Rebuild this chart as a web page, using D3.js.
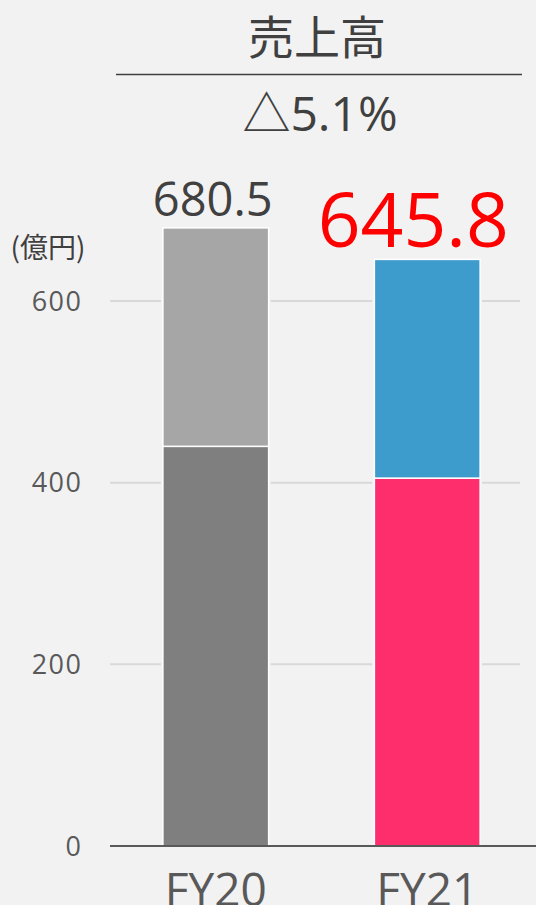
<!DOCTYPE html>
<html>
<head>
<meta charset="utf-8">
<script src="https://cdn.jsdelivr.net/npm/d3@7"></script>
<style>
  html, body { margin: 0; padding: 0; background: #f2f2f2; overflow: hidden; }
  svg { display: block; font-family: "Open Sans", "Noto Sans CJK JP", sans-serif; }
  .jp { font-family: "Noto Sans CJK JP", sans-serif; }
</style>
</head>
<body>
<div id="chart"></div>
<script>
var years = ["FY20", "FY21"];
var baseValues = [440.0, 405.0];
var topValues = [240.5, 240.8];
var totalLabels = ["680.5", "645.8"];
var yTicks = [0, 200, 400, 600];

var TITLE = "売上高";
var CHANGE = "△5.1%";
var UNIT = "(億円)";

var baseColors = ["#7f7f7f", "#fe2e6d"];
var topColors = ["#a6a6a6", "#3e9ccd"];

function drawChart() {
    const width = 536;
    const height = 905;

    const svg = d3.select('#chart').append('svg')
        .attr('width', width)
        .attr('height', height);

    const xScale = d3.scaleBand()
        .domain(years)
        .range([110, 533])
        .paddingInner(0.5)
        .paddingOuter(0.25);

    const yScale = d3.scaleLinear()
        .domain([0, 600])
        .range([846, 301]);

    // gridlines
    svg.append('g')
        .selectAll('line')
        .data(yTicks.filter(d => d > 0))
        .enter().append('line')
        .attr('x1', 110)
        .attr('x2', 520)
        .attr('y1', d => yScale(d))
        .attr('y2', d => yScale(d))
        .attr('stroke', '#d9d9d9')
        .attr('stroke-width', 2);

    // tick labels
    svg.append('g')
        .selectAll('text')
        .data(yTicks)
        .enter().append('text')
        .attr('x', 82.5)
        .attr('y', d => yScale(d))
        .attr('dy', '0.36em')
        .attr('text-anchor', 'end')
        .attr('font-size', 27)
        .attr('letter-spacing', 1.5)
        .attr('fill', '#595959')
        .text(d => d);

    const stacks = years.map((y, i) => ({
        year: y,
        segs: [
            { y0: 0, y1: baseValues[i], color: baseColors[i] },
            { y0: baseValues[i], y1: baseValues[i] + topValues[i], color: topColors[i] }
        ]
    }));

    const bars = svg.append('g')
        .selectAll('g')
        .data(stacks)
        .enter().append('g');

    // gap in the gridlines around each bar
    bars.append('rect')
        .attr('x', d => xScale(d.year) - 2)
        .attr('width', xScale.bandwidth() + 4)
        .attr('y', d => yScale(d.segs[1].y1))
        .attr('height', d => yScale(0) - yScale(d.segs[1].y1))
        .attr('fill', '#f2f2f2');

    bars.selectAll('.seg')
        .data(d => d.segs.map(s => Object.assign({ year: d.year }, s)))
        .enter().append('rect')
        .attr('class', 'seg')
        .attr('x', d => xScale(d.year))
        .attr('width', xScale.bandwidth())
        .attr('y', d => yScale(d.y1))
        .attr('height', d => yScale(d.y0) - yScale(d.y1))
        .attr('fill', d => d.color)
        .attr('stroke', '#ffffff')
        .attr('stroke-width', 1.5);

    // axis line
    svg.append('line')
        .attr('x1', 110)
        .attr('x2', width)
        .attr('y1', yScale(0))
        .attr('y2', yScale(0))
        .attr('stroke', '#595959')
        .attr('stroke-width', 2);

    // category labels (bottom is clipped in the original too)
    svg.append('g')
        .selectAll('text')
        .data(years)
        .enter().append('text')
        .attr('x', d => xScale(d) + xScale.bandwidth() / 2)
        .attr('y', 906)
        .attr('text-anchor', 'middle')
        .attr('font-size', 46)
        .attr('fill', '#595959')
        .text(d => d);

    // total labels
    svg.append('text')
        .attr('x', xScale(years[0]) + xScale.bandwidth() / 2 - 3)
        .attr('y', 216)
        .attr('text-anchor', 'middle')
        .attr('font-size', 47)
        .attr('fill', '#404040')
        .text(totalLabels[0]);

    svg.append('text')
        .attr('x', xScale(years[1]) + xScale.bandwidth() / 2 - 14)
        .attr('y', 247)
        .attr('text-anchor', 'middle')
        .attr('font-size', 75)
        .attr('fill', '#ff0000')
        .text(totalLabels[1]);

    // unit
    svg.append('text')
        .attr('class', 'jp')
        .attr('x', 48)
        .attr('y', 258)
        .attr('text-anchor', 'middle')
        .attr('font-size', 28)
        .attr('fill', '#404040')
        .text(UNIT);

    // header
    svg.append('text')
        .attr('class', 'jp')
        .attr('x', 317)
        .attr('y', 54)
        .attr('text-anchor', 'middle')
        .attr('font-size', 46)
        .attr('fill', '#404040')
        .text(TITLE);

    svg.append('line')
        .attr('x1', 116)
        .attr('x2', 522)
        .attr('y1', 74.5)
        .attr('y2', 74.5)
        .attr('stroke', '#404040')
        .attr('stroke-width', 1.5);

    svg.append('text')
        .attr('x', 320)
        .attr('y', 131)
        .attr('text-anchor', 'middle')
        .attr('font-size', 48)
        .attr('fill', '#404040')
        .text(CHANGE);
}

drawChart();
</script>
</body>
</html>
